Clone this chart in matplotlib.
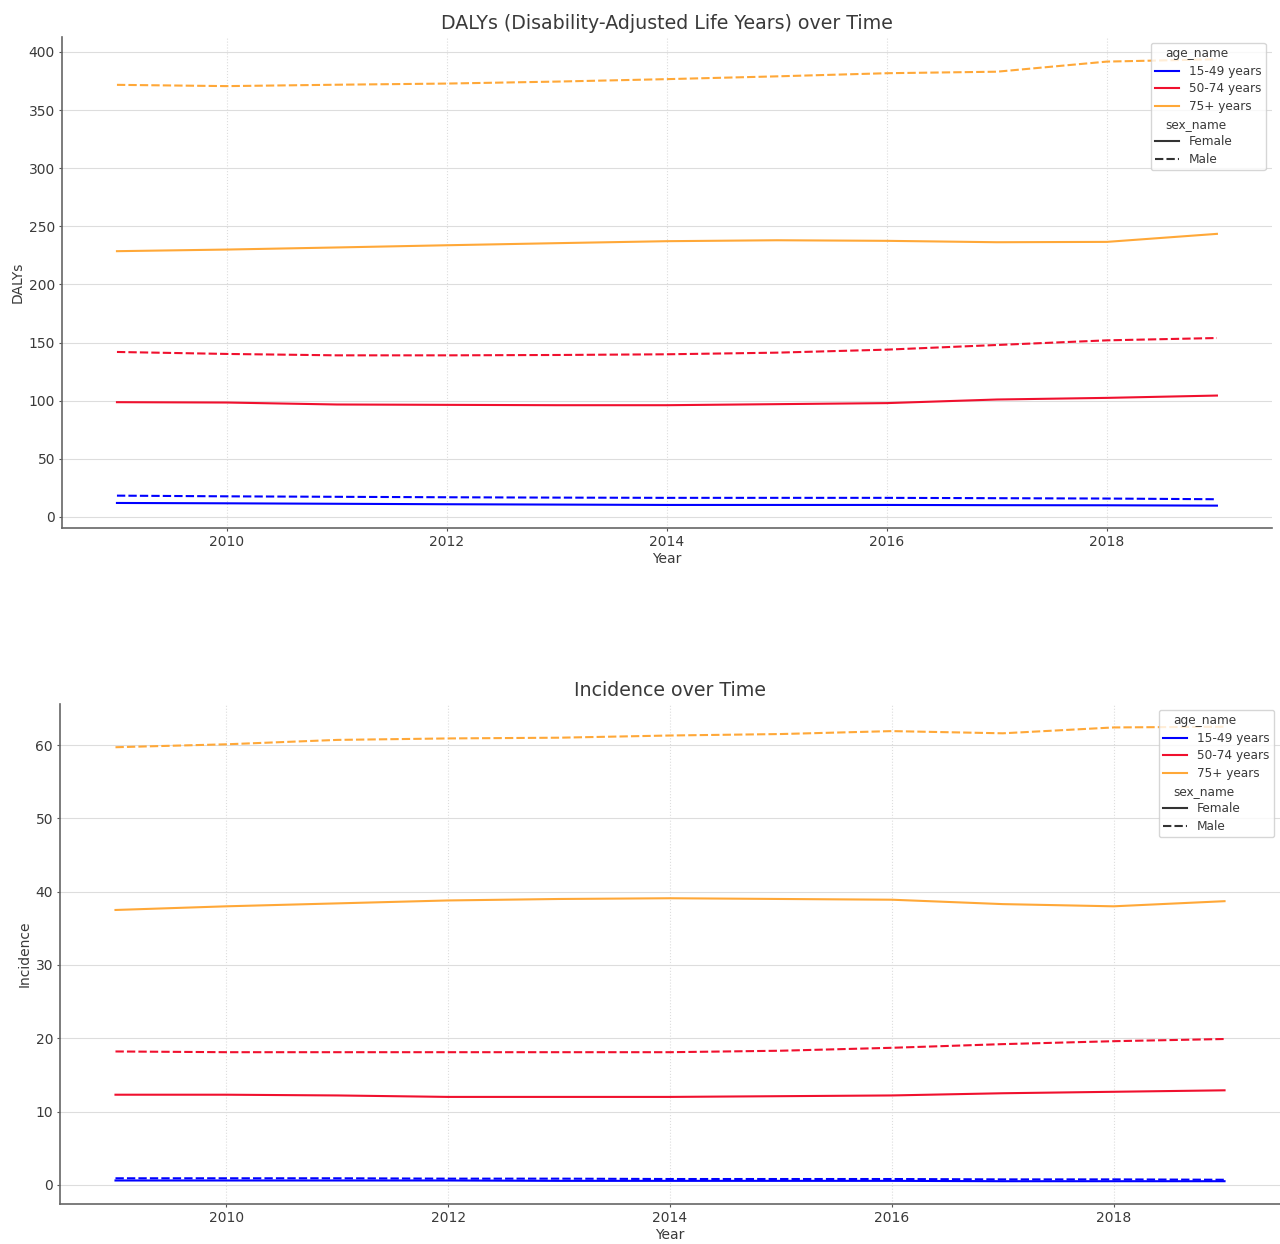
import numpy as np
import pandas as pd
import matplotlib
matplotlib.use("Agg")
import matplotlib.pyplot as plt
from matplotlib.offsetbox import VPacker
import seaborn as sns

years = list(range(2009, 2020))
age_groups = ["15-49 years", "50-74 years", "75+ years"]
sexes = ["Female", "Male"]

# DALYs
daly_f_15 = [12.0, 11.7, 11.3, 10.9, 10.6, 10.3, 10.3, 10.3, 10.1, 10.0, 9.7]
daly_m_15 = [18.3, 17.7, 17.3, 16.9, 16.6, 16.4, 16.4, 16.4, 16.1, 15.8, 15.2]
daly_f_50 = [98.7, 98.4, 96.7, 96.4, 96.1, 96.1, 97.0, 97.9, 101.0, 102.4, 104.4]
daly_m_50 = [141.9, 140.2, 139.0, 139.0, 139.3, 139.9, 141.3, 143.9, 147.9, 151.9, 153.9]
daly_f_75 = [228.6, 230.0, 231.8, 233.7, 235.5, 237.2, 238.0, 237.5, 236.3, 236.6, 243.5]
daly_m_75 = [371.7, 370.6, 371.8, 372.8, 374.5, 376.6, 379.0, 381.7, 383.0, 391.7, 393.7]

# Incidence
inc_f_15 = [0.6, 0.6, 0.6, 0.6, 0.55, 0.55, 0.55, 0.55, 0.5, 0.5, 0.5]
inc_m_15 = [0.9, 0.9, 0.9, 0.85, 0.85, 0.8, 0.8, 0.8, 0.75, 0.75, 0.7]
inc_f_50 = [12.3, 12.3, 12.2, 12.0, 12.0, 12.0, 12.1, 12.2, 12.5, 12.7, 12.9]
inc_m_50 = [18.2, 18.1, 18.1, 18.1, 18.1, 18.1, 18.3, 18.7, 19.2, 19.6, 19.9]
inc_f_75 = [37.5, 38.0, 38.4, 38.8, 39.0, 39.1, 39.0, 38.9, 38.3, 38.0, 38.7]
inc_m_75 = [59.7, 60.1, 60.7, 60.9, 61.0, 61.3, 61.5, 61.9, 61.6, 62.4, 62.5]

palette = {"15-49 years": "blue", "50-74 years": "#f0102e", "75+ years": "#ffa838"}


def make_df(series):
    rows = []
    for (age, sex), vals in series.items():
        for y, v in zip(years, vals):
            rows.append({"year": y, "val": v, "age_name": age, "sex_name": sex})
    return pd.DataFrame(rows)


dalys = make_df({
    ("15-49 years", "Female"): daly_f_15, ("15-49 years", "Male"): daly_m_15,
    ("50-74 years", "Female"): daly_f_50, ("50-74 years", "Male"): daly_m_50,
    ("75+ years", "Female"): daly_f_75, ("75+ years", "Male"): daly_m_75,
})
incidence = make_df({
    ("15-49 years", "Female"): inc_f_15, ("15-49 years", "Male"): inc_m_15,
    ("50-74 years", "Female"): inc_f_50, ("50-74 years", "Male"): inc_m_50,
    ("75+ years", "Female"): inc_f_75, ("75+ years", "Male"): inc_m_75,
})

plt.rcParams.update({
    "font.family": ["DejaVu Sans"],
    "text.color": "#3a3a3a",
    "axes.labelcolor": "#3a3a3a",
    "xtick.color": "#555555",
    "ytick.color": "#555555",
    "xtick.labelcolor": "#3a3a3a",
    "ytick.labelcolor": "#3a3a3a",
    "axes.edgecolor": "#666666",
    "axes.linewidth": 1.2,
    "legend.fontsize": 8.7,
})

fig = plt.figure(figsize=(12.8, 12.44), dpi=100)
ax1 = fig.add_axes([0.0484, 0.5756, 0.9453, 0.3947])
ax2 = fig.add_axes([0.0469, 0.0322, 0.9531, 0.4019])

for ax, df, title, ylab in [(ax1, dalys, "DALYs (Disability-Adjusted Life Years) over Time", "DALYs"),
                            (ax2, incidence, "Incidence over Time", "Incidence")]:
    sns.lineplot(data=df, x="year", y="val", hue="age_name", style="sex_name",
                 hue_order=age_groups, style_order=sexes, palette=palette,
                 linewidth=1.5, ax=ax)
    ax.set_title(title, fontsize=13.7, pad=6)
    ax.set_xlabel("Year", fontsize=10, labelpad=2)
    ax.set_ylabel(ylab, fontsize=10, labelpad=3)
    ax.tick_params(labelsize=10, length=2.5, pad=2.5)
    ax.spines["top"].set_visible(False)
    ax.spines["right"].set_visible(False)
    ax.yaxis.grid(True, color="#dddddd", linewidth=0.8)
    ax.xaxis.grid(True, color="#dddddd", linewidth=0.8, linestyle=":")
    ax.set_axisbelow(True)
    leg = ax.legend(loc="upper right", labelspacing=0.38, handlelength=2.0,
                    borderpad=0.35)
    leg.get_frame().set_edgecolor("#cccccc")
    # headers sit left, like old seaborn subtitles
    rows = leg.findobj(VPacker)[0].get_children()
    for row in rows:
        draw_area, text_area = row.get_children()
        t = text_area.get_children()[0]
        if t.get_text() in ("age_name", "sex_name"):
            draw_area.set_width(0)
            t.set_fontsize(8.7)

fig.savefig("out.png", dpi=100)
